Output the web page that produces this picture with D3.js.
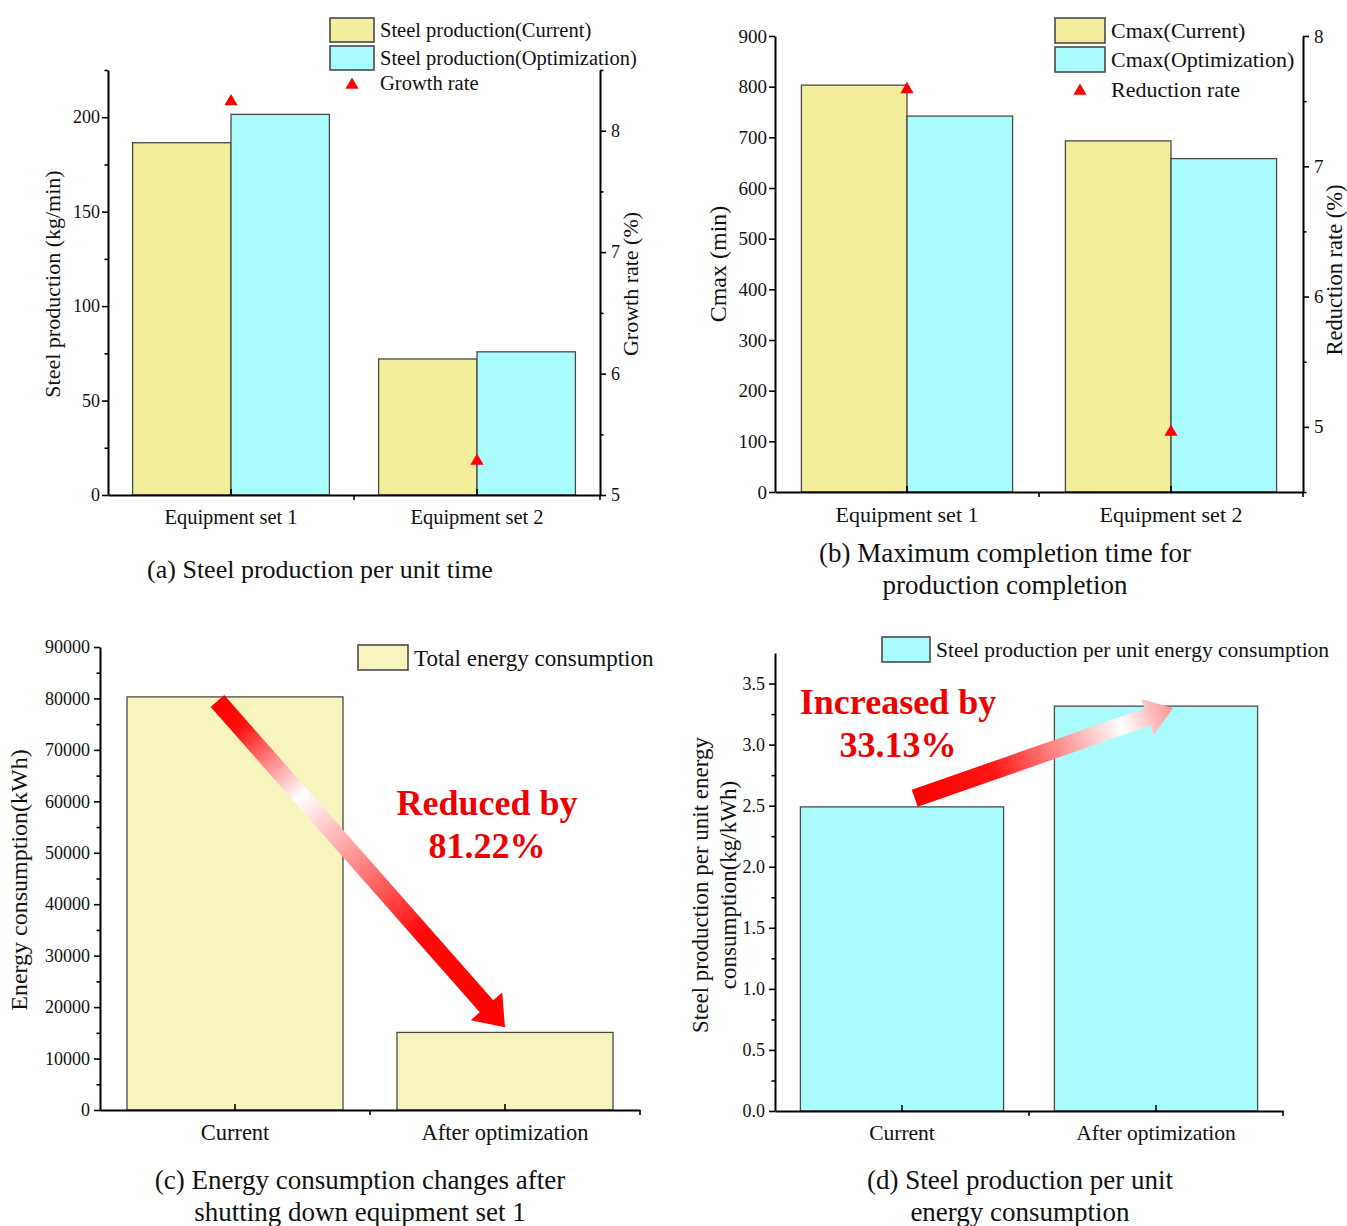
<!DOCTYPE html>
<html><head><meta charset="utf-8">
<script src="https://cdn.jsdelivr.net/npm/d3@7"></script>
<style>
body{margin:0;background:#fff;}
text{font-family:"Liberation Serif","Times New Roman",serif;fill:#111;}
</style></head><body>
<script>
// ---------- data ----------
const catsAB = ["Equipment set 1","Equipment set 2"];
const prodCurrent = [186.5, 72.0];
const prodOptim = [201.5, 75.8];
const growthRate = [8.24, 5.28];
const cmaxCurrent = [803, 693];
const cmaxOptim = [742, 658];
const reductionRate = [7.59, 4.96];
const catsCD = ["Current","After optimization"];
const energyTotal = [80300, 15080];
const steelPerEnergy = [2.49, 3.315];

const ticksA_left = [0,50,100,150,200];
const ticksA_right = [5,6,7,8];
const ticksB_left = [0,100,200,300,400,500,600,700,800,900];
const ticksB_right = [5,6,7,8];
const ticksC_left = [0,10000,20000,30000,40000,50000,60000,70000,80000,90000];
const ticksD_left = [0.0,0.5,1.0,1.5,2.0,2.5,3.0,3.5];

const YELLOW = "#f3ee9b", YELLOW_C = "#f8f4be", CYAN = "#aafcfc", EDGE = "#4a4a4a", RED = "#ff0000";

const svg = d3.select("body").append("svg").attr("width",1347).attr("height",1226);
const defs = svg.append("defs");

function leftAxis(g, y, x0, ticks, minor, fmt, fs, pad){
  const a = g.append("g").attr("transform",`translate(${x0},0)`)
    .call(d3.axisLeft(y).tickValues(ticks).tickSize(6).tickSizeOuter(0).tickPadding(pad).tickFormat(fmt));
  a.select(".domain").attr("stroke","#000").attr("stroke-width",2);
  a.selectAll(".tick line").attr("stroke","#000").attr("stroke-width",1.6);
  a.selectAll("text").style("font-size",fs+"px").style("font-family","Liberation Serif");
  if(minor){
    const m = g.append("g").attr("transform",`translate(${x0},0)`)
      .call(d3.axisLeft(y).tickValues(minor).tickSize(3.5).tickFormat(""));
    m.select(".domain").remove();
    m.selectAll(".tick line").attr("stroke","#000").attr("stroke-width",1.6);
  }
}
function rightAxis(g, y, x0, ticks, minor, fs){
  const a = g.append("g").attr("transform",`translate(${x0},0)`)
    .call(d3.axisRight(y).tickValues(ticks).tickSize(6).tickSizeOuter(0).tickPadding(5).tickFormat(d3.format("d")));
  a.select(".domain").attr("stroke","#000").attr("stroke-width",2);
  a.selectAll(".tick line").attr("stroke","#000").attr("stroke-width",1.6);
  a.selectAll("text").style("font-size",fs+"px").style("font-family","Liberation Serif");
  if(minor){
    const m = g.append("g").attr("transform",`translate(${x0},0)`)
      .call(d3.axisRight(y).tickValues(minor).tickSize(3.5).tickFormat(""));
    m.select(".domain").remove();
    m.selectAll(".tick line").attr("stroke","#000").attr("stroke-width",1.6);
  }
}
function bottomAxis(g, x, y0, fs, pad){
  const a = g.append("g").attr("transform",`translate(0,${y0})`)
    .call(d3.axisBottom(x).tickSize(-6).tickSizeOuter(0).tickPadding(pad));
  a.select(".domain").attr("stroke","#000").attr("stroke-width",2);
  a.selectAll(".tick line").attr("stroke","#000").attr("stroke-width",1.6);
  a.selectAll("text").style("font-size",fs+"px").style("font-family","Liberation Serif");
  const r = x.range();
  const bounds = d3.range(1, x.domain().length).map(i => r[0] + i*x.step());
  bounds.push(r[1]);
  g.selectAll(null).data(bounds).enter().append("line")
    .attr("x1",d=>d).attr("x2",d=>d).attr("y1",y0).attr("y2",y0+5)
    .attr("stroke","#000").attr("stroke-width",1.6);
}
function rotLabel(g, x, y, lines, fs, lh){
  const t = g.append("text").attr("transform",`translate(${x},${y}) rotate(-90)`)
    .attr("text-anchor","middle").style("font-size",fs+"px");
  lines.forEach((l,i)=>t.append("tspan").attr("x",0).attr("dy", i===0? (-(lines.length-1)*lh/2)+"" : lh+"").text(l));
}
function caption(g, x, y, lines, fs, lh){
  lines.forEach((l,i)=>g.append("text").attr("x",x).attr("y",y+i*lh).attr("text-anchor","middle")
    .style("font-size",fs+"px").text(l));
}
function legendBox(g, x, y, w, h, fill, label, fs){
  g.append("rect").attr("x",x).attr("y",y).attr("width",w).attr("height",h)
    .attr("fill",fill).attr("stroke",EDGE).attr("stroke-width",1.6);
  g.append("text").attr("x",x+w+6).attr("y",y+h/2).attr("dy","0.35em").style("font-size",fs+"px").text(label);
}
function legendTri(g, x, y, w, label, fs){
  g.append("path").attr("d",d3.symbol(d3.symbolTriangle,75)()).attr("transform",`translate(${x+w/2},${y+2})`).attr("fill",RED);
  g.append("text").attr("x",x+w+6).attr("y",y).attr("dy","0.35em").style("font-size",fs+"px").text(label);
}
function grouped(g, x, y, cats, s1, s2){
  const inner = d3.scaleBand().domain([0,1]).range([0, x.step()*0.8]);
  cats.forEach((c,i)=>{
    const x0 = x(c) + x.step()*0.1;
    [[s1[i],YELLOW],[s2[i],CYAN]].forEach(([v,col],j)=>{
      g.append("rect").attr("x",x0+inner(j)).attr("width",inner.bandwidth())
        .attr("y",y(v)).attr("height",y(0)-y(v)).attr("fill",col).attr("stroke",EDGE).attr("stroke-width",1.3);
    });
  });
}
function triangles(g, x, y2, cats, vals){
  g.selectAll(null).data(cats).enter().append("path")
    .attr("d",d3.symbol(d3.symbolTriangle,75)())
    .attr("transform",(c,i)=>`translate(${x(c)+x.bandwidth()/2},${y2(vals[i])})`)
    .attr("fill",RED);
}
function arrow(g, x0,y0,x1,y1, sw, hw, hl, stops, id){
  const dx=x1-x0, dy=y1-y0, L=Math.hypot(dx,dy), ang=Math.atan2(dy,dx)*180/Math.PI;
  const gr = defs.append("linearGradient").attr("id",id).attr("gradientUnits","userSpaceOnUse")
    .attr("x1",0).attr("y1",0).attr("x2",L).attr("y2",0);
  stops.forEach(s=>gr.append("stop").attr("offset",s[0]).attr("stop-color",s[1]));
  const p = d3.path();
  p.moveTo(0,-sw/2); p.lineTo(L-hl,-sw/2); p.lineTo(L-hl,-hw/2); p.lineTo(L,0);
  p.lineTo(L-hl,hw/2); p.lineTo(L-hl,sw/2); p.lineTo(0,sw/2); p.closePath();
  g.append("path").attr("d",p.toString()).attr("transform",`translate(${x0},${y0}) rotate(${ang})`)
    .attr("fill",`url(#${id})`);
}

// ---------- Panel (a) ----------
{
  const g = svg.append("g");
  const x = d3.scaleBand().domain(catsAB).range([108,600]);
  const y = d3.scaleLinear().domain([0,225]).range([495,70]);
  const y2 = d3.scaleLinear().domain([5,8.5]).range([495,70]);
  grouped(g,x,y,catsAB,prodCurrent,prodOptim);
  leftAxis(g,y,108,ticksA_left,[25,75,125,175,225],d3.format("d"),18,2);
  rightAxis(g,y2,600,ticksA_right,[5.5,6.5,7.5,8.5],18);
  bottomAxis(g,x,495,20.5,14);
  triangles(g,x,y2,catsAB,growthRate);
  rotLabel(g,60,284,["Steel production (kg/min)"],22,0);
  rotLabel(g,638,284,["Growth rate (%)"],22,0);
  legendBox(g,330,18,44,24,YELLOW,"Steel production(Current)",20.5);
  legendBox(g,330,46,44,24,CYAN,"Steel production(Optimization)",20.5);
  legendTri(g,330,83,44,"Growth rate",20.5);
  caption(g,320,578,["(a) Steel production per unit time"],26,0);
}
// ---------- Panel (b) ----------
{
  const g = svg.append("g");
  const x = d3.scaleBand().domain(catsAB).range([775,1303]);
  const y = d3.scaleLinear().domain([0,900]).range([492,36]);
  const y2 = d3.scaleLinear().domain([4.5,8]).range([492,36]);
  grouped(g,x,y,catsAB,cmaxCurrent,cmaxOptim);
  leftAxis(g,y,775,ticksB_left,null,d3.format("d"),19,2);
  rightAxis(g,y2,1303,ticksB_right,[4.5,5.5,6.5,7.5],19);
  bottomAxis(g,x,492,22,14);
  triangles(g,x,y2,catsAB,reductionRate);
  rotLabel(g,726,264,["Cmax (min)"],24,0);
  rotLabel(g,1342,270,["Reduction rate (%)"],22.5,0);
  legendBox(g,1055,18,50,25,YELLOW,"Cmax(Current)",22);
  legendBox(g,1055,47,50,25,CYAN,"Cmax(Optimization)",22);
  legendTri(g,1055,89,50,"Reduction rate",22);
  caption(g,1005,562,["(b) Maximum completion time for","production completion"],27,32);
}
// ---------- Panel (c) ----------
{
  const g = svg.append("g");
  const x = d3.scaleBand().domain(catsCD).range([100,640]);
  const y = d3.scaleLinear().domain([0,90000]).range([1110,647]);
  g.selectAll(null).data(catsCD).enter().append("rect")
    .attr("x",c=>x(c)+x.step()*0.1).attr("width",x.step()*0.8)
    .attr("y",(c,i)=>y(energyTotal[i])).attr("height",(c,i)=>y(0)-y(energyTotal[i]))
    .attr("fill",YELLOW_C).attr("stroke",EDGE).attr("stroke-width",1.3);
  leftAxis(g,y,100,ticksC_left,d3.range(5000,90000,10000),d3.format("d"),18,4);
  bottomAxis(g,x,1110,22.5,14);
  rotLabel(g,27,880,["Energy consumption(kWh)"],24,0);
  legendBox(g,358,645,50,25,YELLOW_C,"Total energy consumption",23);
  const cx = c => x(c)+x.bandwidth()/2;
  arrow(g, cx(catsCD[0])-x.step()*0.065, y(79500), cx(catsCD[1]), y(energyTotal[1]+1000),
        18, 42, 28, [[0,"#ff0000"],[0.08,"#ff1010"],[0.29,"#ffffff"],[0.71,"#ff0a0a"],[1,"#ff0000"]], "gc");
  g.append("text").attr("x",487).attr("y",815).attr("text-anchor","middle").style("font-size","36px")
    .style("font-weight","bold").style("fill","#ee0000").text("Reduced by");
  g.append("text").attr("x",487).attr("y",858).attr("text-anchor","middle").style("font-size","36px")
    .style("font-weight","bold").style("fill","#ee0000").text("81.22%");
  caption(g,360,1189,["(c) Energy consumption changes after","shutting down equipment set 1"],27,32);
}
// ---------- Panel (d) ----------
{
  const g = svg.append("g");
  const x = d3.scaleBand().domain(catsCD).range([775,1283]);
  const y = d3.scaleLinear().domain([0,3.75]).range([1111,653]);
  g.selectAll(null).data(catsCD).enter().append("rect")
    .attr("x",c=>x(c)+x.step()*0.1).attr("width",x.step()*0.8)
    .attr("y",(c,i)=>y(steelPerEnergy[i])).attr("height",(c,i)=>y(0)-y(steelPerEnergy[i]))
    .attr("fill",CYAN).attr("stroke",EDGE).attr("stroke-width",1.3);
  leftAxis(g,y,775,ticksD_left,d3.range(0.25,3.75,0.5),d3.format(".1f"),18,4);
  bottomAxis(g,x,1111,21.5,14);
  rotLabel(g,722,885,["Steel production per unit energy","consumption(kg/kWh)"],23,28);
  legendBox(g,882,637,48,25,CYAN,"Steel production per unit energy consumption",21.5);
  const cx = c => x(c)+x.bandwidth()/2;
  arrow(g, cx(catsCD[0])+x.step()*0.05, y(2.56), cx(catsCD[1])+x.step()*0.067, y(3.30),
        18, 38, 27, [[0,"#ff0000"],[0.3,"#ff1515"],[0.8,"#ffffff"],[1,"#ff9090"]], "gd");
  g.append("text").attr("x",898).attr("y",714).attr("text-anchor","middle").style("font-size","36px")
    .style("font-weight","bold").style("fill","#ee0000").text("Increased by");
  g.append("text").attr("x",898).attr("y",757).attr("text-anchor","middle").style("font-size","36px")
    .style("font-weight","bold").style("fill","#ee0000").text("33.13%");
  caption(g,1020,1189,["(d) Steel production per unit","energy consumption"],27,32);
}
</script></body></html>
